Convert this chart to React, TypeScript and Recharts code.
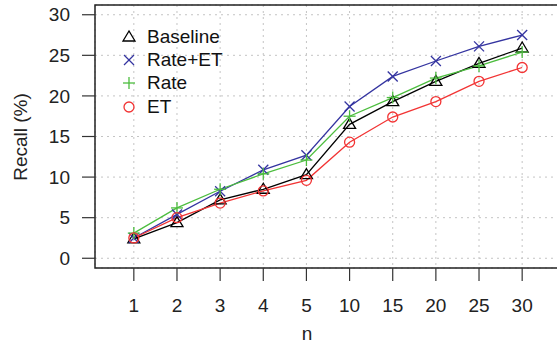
import { ReactNode } from 'react';
import {
  CartesianGrid,
  Line,
  LineChart,
  ReferenceArea,
  XAxis,
  YAxis
} from 'recharts';

const categories = ['1', '2', '3', '4', '5', '10', '15', '20', '25', '30'];
const baseline = [2.4, 4.4, 7.2, 8.5, 10.3, 16.5, 19.3, 21.8, 24.0, 25.9];
const rateEt = [2.5, 5.4, 8.25, 10.9, 12.7, 18.7, 22.4, 24.3, 26.1, 27.5];
const rate = [3.1, 6.2, 8.5, 10.4, 12.1, 17.5, 19.8, 22.2, 23.7, 25.4];
const et = [2.5, 5.0, 6.8, 8.3, 9.6, 14.3, 17.4, 19.3, 21.8, 23.5];
const yTicks = [0, 5, 10, 15, 20, 25, 30];

const FONT = '"Liberation Sans", Arial, Helvetica, sans-serif';

type Kind = 'triangle' | 'cross' | 'plus' | 'circle';

const series: Array<{ key: string; name: string; color: string; kind: Kind }> = [
  { key: 'baseline', name: 'Baseline', color: '#000000', kind: 'triangle' },
  { key: 'rateEt', name: 'Rate+ET', color: '#3434a0', kind: 'cross' },
  { key: 'rate', name: 'Rate', color: '#4cbd3e', kind: 'plus' },
  { key: 'et', name: 'ET', color: '#f23434', kind: 'circle' }
];

const data = categories.map((c, i) => ({
  x: i + 1,
  label: c,
  baseline: baseline[i],
  rateEt: rateEt[i],
  rate: rate[i],
  et: et[i]
}));

function Marker({ cx, cy, kind, color }: { cx: number; cy: number; kind: Kind; color: string }): ReactNode {
  const sw = 1.3;
  switch (kind) {
    case 'triangle':
      return (
        <polygon
          points={`${cx},${cy - 6} ${cx - 6},${cy + 4} ${cx + 6},${cy + 4}`}
          fill="none"
          stroke={color}
          strokeWidth={sw}
        />
      );
    case 'cross':
      return (
        <g stroke={color} strokeWidth={sw}>
          <line x1={cx - 5} y1={cy - 5} x2={cx + 5} y2={cy + 5} />
          <line x1={cx - 5} y1={cy + 5} x2={cx + 5} y2={cy - 5} />
        </g>
      );
    case 'plus':
      return (
        <g stroke={color} strokeWidth={sw}>
          <line x1={cx - 6} y1={cy} x2={cx + 6} y2={cy} />
          <line x1={cx} y1={cy - 6} x2={cx} y2={cy + 6} />
        </g>
      );
    default:
      return <circle cx={cx} cy={cy} r={5} fill="none" stroke={color} strokeWidth={sw} />;
  }
}

function YLabel(): ReactNode {
  return (
    <text
      x={20}
      y={137}
      transform="rotate(-90 20 137)"
      textAnchor="middle"
      dominantBaseline="central"
      fontSize={19}
      fontFamily={FONT}
      fill="#222"
    >
      Recall (%)
    </text>
  );
}

function XLabel(): ReactNode {
  return (
    <text x={307} y={333} textAnchor="middle" dominantBaseline="central" fontSize={19} fontFamily={FONT} fill="#222">
      n
    </text>
  );
}

export default function App(): ReactNode {
  return (
    <div style={{ position: 'absolute', left: 0, top: 0, width: 557, height: 344, overflow: 'hidden', background: '#fff' }}>
      <LineChart width={566} height={344} data={data} margin={{ top: 5, right: 5, bottom: 0, left: 0 }}>
        <CartesianGrid stroke="#c4c4c4" strokeDasharray="2 4" />
        <XAxis
          dataKey="x"
          type="number"
          domain={[0.1, 10.9]}
          ticks={data.map(d => d.x)}
          tickFormatter={(v: number) => categories[v - 1]}
          allowDataOverflow
          height={76}
          axisLine={false}
          tickSize={13}
          tickMargin={18}
          tickLine={{ stroke: '#333', strokeWidth: 1.2 }}
          tick={{ fontSize: 19, fontFamily: FONT, fill: '#222' }}
          label={<XLabel />}
        />
        <YAxis
          type="number"
          domain={[-1.2, 31.2]}
          ticks={yTicks}
          allowDataOverflow
          width={95}
          axisLine={false}
          tickSize={13}
          tickMargin={12}
          tickLine={{ stroke: '#333', strokeWidth: 1.2 }}
          tick={{ fontSize: 19, fontFamily: FONT, fill: '#222' }}
          label={<YLabel />}
        />
        <ReferenceArea
          x1={0.1}
          x2={10.9}
          y1={-1.2}
          y2={31.2}
          fill="none"
          fillOpacity={0}
          stroke="#222"
          strokeWidth={1.5}
          ifOverflow="visible"
        />
        {series.map(s => (
          <Line
            key={s.key}
            type="linear"
            dataKey={s.key}
            name={s.name}
            stroke={s.color}
            strokeWidth={1.3}
            isAnimationActive={false}
            dot={(p: any) => <Marker key={`${s.key}-${p.index}`} cx={p.cx} cy={p.cy} kind={s.kind} color={s.color} />}
            activeDot={false}
          />
        ))}
      </LineChart>
      <div style={{ position: 'absolute', left: 120, top: 25, fontFamily: FONT, fontSize: 19, color: '#111' }}>
        {series.map(s => (
          <div key={s.key} style={{ display: 'flex', alignItems: 'center', height: 23.3 }}>
            <svg width={18} height={18} style={{ marginLeft: 0 }}>
              <Marker cx={9} cy={9} kind={s.kind} color={s.color} />
            </svg>
            <span style={{ marginLeft: 9 }}>{s.name}</span>
          </div>
        ))}
      </div>
    </div>
  );
}
